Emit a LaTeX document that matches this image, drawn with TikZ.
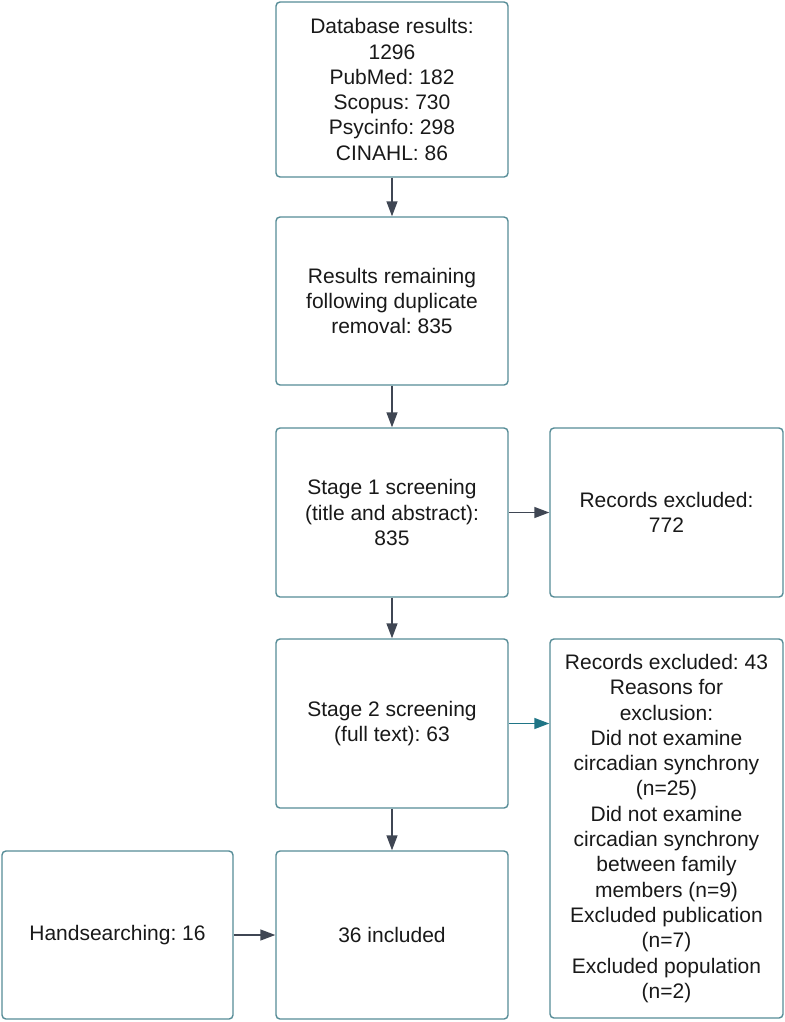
\documentclass[tikz,border=0pt]{standalone}
\usepackage{fontspec}
\setmainfont{Liberation Sans}
\usetikzlibrary{arrows.meta}
\definecolor{boxline}{HTML}{568C97}
\definecolor{arrowgray}{HTML}{3F4653}
\definecolor{arrowteal}{HTML}{1F7586}
\tikzset{
  flowbox/.style={draw=boxline, line width=1.4bp, rounded corners=4bp, fill=white,
    align=center, inner sep=0pt, minimum width=232bp,
    font=\fontsize{21bp}{25.3bp}\selectfont\frenchspacing, text=black!90},
  flowarrow/.style={draw=arrowgray, line width=1.4bp,
    -{Triangle[length=15bp,width=11bp]}},
  tealarrow/.style={flowarrow, draw=arrowteal}
}
\begin{document}
\begin{tikzpicture}[x=1bp, y=-1bp]
\useasboundingbox (0,0) rectangle (785,1022);
% main column
\node[flowbox, minimum height=175bp] (db) at (392,89.5)
  {Database results:\\1296\\PubMed: 182\\Scopus: 730\\Psycinfo: 298\\CINAHL: 86};
\node[flowbox, minimum height=168bp] (dup) at (392,301)
  {Results remaining\\following duplicate\\removal: 835};
\node[flowbox, minimum height=169bp] (s1) at (392,512.5)
  {Stage 1 screening\\(title and abstract):\\835};
\node[flowbox, minimum height=169bp] (s2) at (392,723.5)
  {Stage 2 screening\\(full text): 63};
\node[flowbox, minimum height=168bp] (inc) at (392,935)
  {36 included};
% side boxes
\node[flowbox, minimum width=233bp, minimum height=169bp] (ex1) at (666.5,512.5)
  {Records excluded:\\772};
\node[flowbox, minimum width=233bp, minimum height=379bp] (ex2) at (666.5,828.5)
  {Records excluded: 43\\Reasons for\\exclusion:\\Did not examine\\circadian synchrony\\(n=25)\\Did not examine\\circadian synchrony\\between family\\members (n=9)\\Excluded publication\\(n=7)\\Excluded population\\(n=2)};
\node[flowbox, minimum width=231bp, minimum height=168bp] (hs) at (117.5,935)
  {Handsearching: 16};
% connectors
\draw[flowarrow] (db) -- (dup);
\draw[flowarrow] (dup) -- (s1);
\draw[flowarrow] (s1) -- (s2);
\draw[flowarrow] (s2) -- (inc);
\draw[flowarrow] (s1) -- (ex1);
\draw[tealarrow] (s2.east) -- (ex2.west |- s2.east);
\draw[flowarrow] (hs) -- (inc);
\end{tikzpicture}
\end{document}
